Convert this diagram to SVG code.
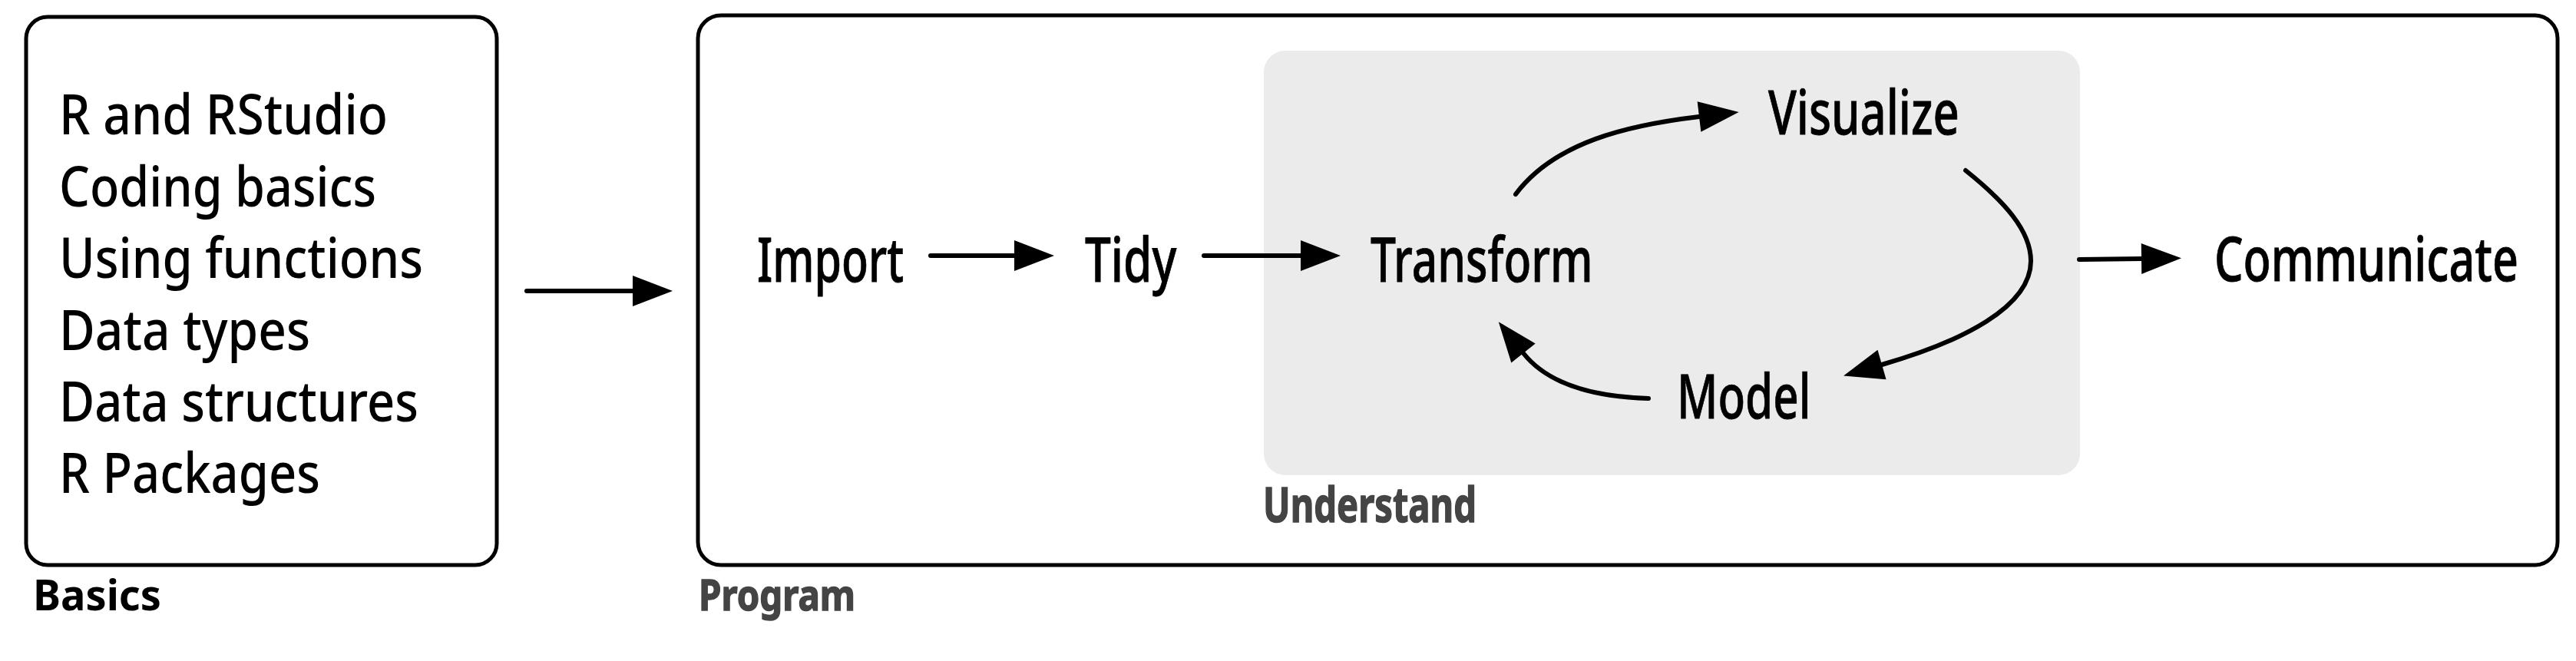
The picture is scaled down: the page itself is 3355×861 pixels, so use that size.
<svg xmlns="http://www.w3.org/2000/svg" width="3355" height="861" viewBox="0 0 3355 861">
<style>
.frame{fill:none;stroke:#000;stroke-width:5}
.under{fill:#ebebeb;stroke:none}
.lst{font-family:"Noto Sans","Open Sans","Liberation Sans",sans-serif;font-size:72px;font-weight:500;fill:#000}
.node{font-family:"Noto Sans","Open Sans","Liberation Sans",sans-serif;font-size:79px;font-weight:500;fill:#000;stroke:#000;stroke-width:0.8}
.ttl{font-family:"Noto Sans","Open Sans","Liberation Sans",sans-serif;font-weight:bold;fill:#000}
.ttlg{font-family:"Noto Sans","Open Sans","Liberation Sans",sans-serif;font-weight:bold;fill:#444;stroke:#444;stroke-width:1.5}
.edge{fill:none;stroke:#000;stroke-width:6;stroke-linecap:round}
</style>
<defs>
<marker id="ah" markerUnits="userSpaceOnUse" markerWidth="54" markerHeight="42" refX="0" refY="20" orient="auto" overflow="visible">
<path d="M0,0 L52,20 L0,40 z" fill="#000"/>
</marker>
</defs>
<g id="basics">
<rect class="frame" x="34" y="22" width="613" height="714" rx="28"/>
<text class="lst" x="77" y="175" textLength="428" lengthAdjust="spacingAndGlyphs">R and RStudio</text>
<text class="lst" x="77" y="269" textLength="413" lengthAdjust="spacingAndGlyphs">Coding basics</text>
<text class="lst" x="77" y="362" textLength="474" lengthAdjust="spacingAndGlyphs">Using functions</text>
<text class="lst" x="77" y="456" textLength="327" lengthAdjust="spacingAndGlyphs">Data types</text>
<text class="lst" x="77" y="549" textLength="468" lengthAdjust="spacingAndGlyphs">Data structures</text>
<text class="lst" x="77" y="642" textLength="340" lengthAdjust="spacingAndGlyphs">R Packages</text>
<text class="ttl" x="43" y="795" font-size="56" textLength="167" lengthAdjust="spacingAndGlyphs">Basics</text>
</g>
<g id="program">
<rect class="frame" x="909" y="20" width="2422" height="716" rx="30"/>
<text class="ttlg" x="910" y="795" font-size="56" textLength="204" lengthAdjust="spacingAndGlyphs">Program</text>
</g>
<g id="understand">
<rect class="under" x="1646" y="66" width="1063" height="553" rx="28"/>
<text class="ttlg" x="1645" y="680" font-size="62" textLength="278" lengthAdjust="spacingAndGlyphs">Understand</text>
</g>
<g id="import"><text class="node" transform="translate(986,367) scale(0.8,1)" textLength="239" lengthAdjust="spacingAndGlyphs">Import</text></g>
<g id="tidy"><text class="node" transform="translate(1413,367) scale(0.8,1)" textLength="149" lengthAdjust="spacingAndGlyphs">Tidy</text></g>
<g id="transform"><text class="node" transform="translate(1785,367) scale(0.8,1)" textLength="362" lengthAdjust="spacingAndGlyphs">Transform</text></g>
<g id="visualize"><text class="node" transform="translate(2303,175) scale(0.8,1)" textLength="311" lengthAdjust="spacingAndGlyphs">Visualize</text></g>
<g id="model"><text class="node" transform="translate(2184,545) scale(0.8,1)" textLength="218" lengthAdjust="spacingAndGlyphs">Model</text></g>
<g id="communicate"><text class="node" transform="translate(2884,366) scale(0.8,1)" textLength="495" lengthAdjust="spacingAndGlyphs">Communicate</text></g>
<g id="connectors">
<path class="edge" d="M686,379 L824,379" marker-end="url(#ah)"/>
<path class="edge" d="M1212,333 L1321,333" marker-end="url(#ah)"/>
<path class="edge" d="M1568,333 L1694,333" marker-end="url(#ah)"/>
<path class="edge" d="M1974,253 C2025,185 2120,163 2213,152" marker-end="url(#ah)"/>
<path class="edge" d="M2560,222 C2610,262 2645,300 2645,340 C2645,400 2555,445 2451,475" marker-end="url(#ah)"/>
<path class="edge" d="M2147,519 C2080,517 2018,503 1984,460" marker-end="url(#ah)"/>
<path class="edge" d="M2708,338 L2789,337" marker-end="url(#ah)"/>
</g>
</svg>
